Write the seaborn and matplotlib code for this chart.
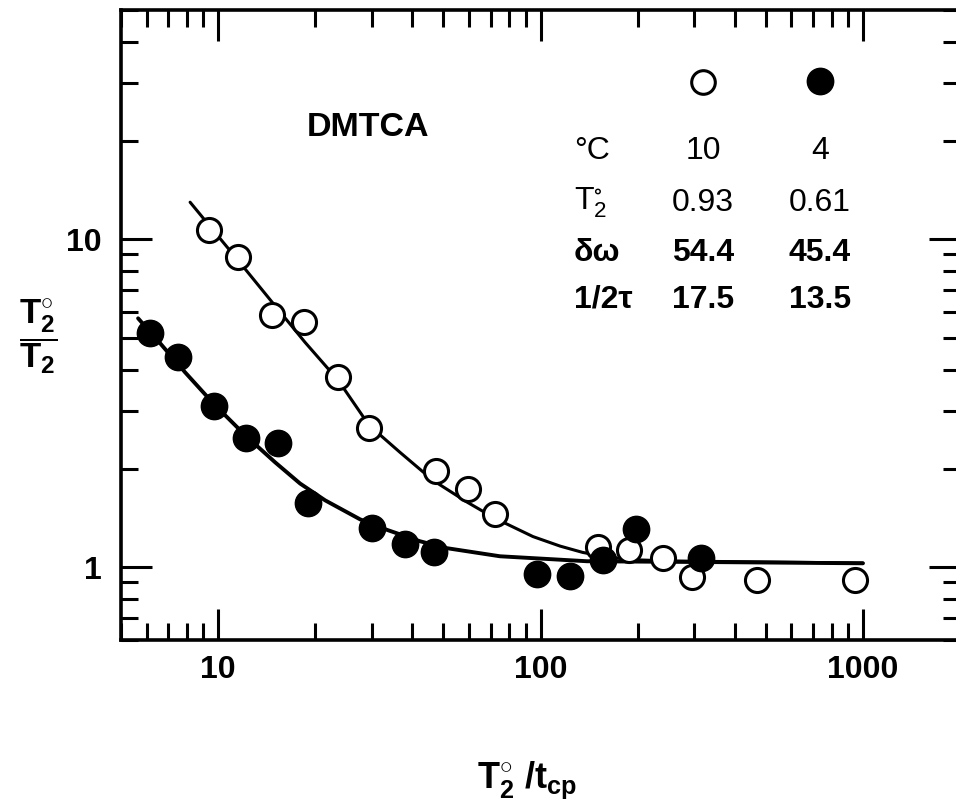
import numpy as np
import matplotlib
matplotlib.use("Agg")
import matplotlib.pyplot as plt
import seaborn as sns
from matplotlib.ticker import LogLocator, NullFormatter

# ---- data ----
# open circles, 10 C
open_x = [9.38, 11.5, 14.7, 18.5, 23.6, 29.4, 47.4, 59.6, 72.2, 151, 188, 240, 295, 469, 944]
open_y = [10.65, 8.81, 5.87, 5.58, 3.80, 2.65, 1.96, 1.73, 1.45, 1.15, 1.13, 1.065, 0.932, 0.913, 0.913]

# filled circles, 4 C
filled_x = [6.15, 7.52, 9.72, 12.2, 15.35, 19.0, 30.0, 38.0, 46.8, 97.5, 123.5, 156, 198, 315]
filled_y = [5.17, 4.37, 3.10, 2.47, 2.39, 1.57, 1.315, 1.18, 1.11, 0.952, 0.939, 1.05, 1.31, 1.065]

# fitted curves
open_fit_x = [8.19, 9.38, 11.53, 14.71, 18.61, 23.56, 29.39, 36.67, 46.42, 59.17,
              72.25, 94.8, 115, 135, 160, 190, 250, 1000]
open_fit_y = [12.97, 11.03, 8.63, 6.43, 4.85, 3.72, 2.71, 2.24, 1.84, 1.58,
              1.41, 1.24, 1.16, 1.11, 1.075, 1.055, 1.045, 1.03]

filled_fit_x = [5.65, 6.61, 7.90, 9.72, 12.22, 15.02, 17.96, 21.47, 27.56, 33.42,
                42.30, 51.30, 74.88, 139.4, 378.7, 1000]
filled_fit_y = [5.74, 4.82, 3.93, 3.14, 2.51, 2.09, 1.80, 1.60, 1.40, 1.30,
                1.20, 1.143, 1.080, 1.043, 1.036, 1.028]

# parameter table
row_labels = ["°C", r"$T_2^{\circ}$", "δω", "1/2τ"]
col_open = ["10", "0.93", "54.4", "17.5"]
col_filled = ["4", "0.61", "45.4", "13.5"]
row_weights = ["normal", "normal", "bold", "bold"]

# ---- style ----
sns.set_theme(style="ticks")
plt.rcParams['font.family'] = ['Liberation Sans', 'DejaVu Sans']
plt.rcParams['text.color'] = 'black'
plt.rcParams['axes.labelcolor'] = 'black'
plt.rcParams['xtick.color'] = 'black'
plt.rcParams['ytick.color'] = 'black'
plt.rcParams['mathtext.fontset'] = 'custom'
plt.rcParams['mathtext.rm'] = 'Liberation Sans'
plt.rcParams['mathtext.it'] = 'Liberation Sans:italic'
plt.rcParams['mathtext.bf'] = 'Liberation Sans:bold'
plt.rcParams['mathtext.default'] = 'regular'

fig = plt.figure(figsize=(9.56, 8.08), dpi=100)
ax = fig.add_axes([121 / 956, 1 - 640 / 808, 839 / 956, 630 / 808])
ax.set(xscale='log', yscale='log')

# curves
sns.lineplot(x=open_fit_x, y=open_fit_y, color='black', linewidth=2.2, sort=False, ax=ax, zorder=2)
sns.lineplot(x=filled_fit_x, y=filled_fit_y, color='black', linewidth=2.8, sort=False, ax=ax, zorder=2)

# points
sns.scatterplot(x=open_x, y=open_y, s=300, color='white', edgecolor='black',
                linewidth=2.2, ax=ax, zorder=3)
sns.scatterplot(x=filled_x, y=filled_y, s=360, color='black', edgecolor='black',
                linewidth=1, ax=ax, zorder=4)

ax.set_xlim(5, 2000)
ax.set_ylim(0.6, 50)

# ticks
ax.set_xticks([10, 100, 1000], labels=['10', '100', '1000'], fontsize=23, fontweight='bold')
ax.set_yticks([1, 10], labels=['1', '10'], fontsize=23, fontweight='bold')
ax.xaxis.set_minor_locator(LogLocator(base=10, subs=np.arange(2, 10), numticks=20))
ax.yaxis.set_minor_locator(LogLocator(base=10, subs=np.arange(2, 10), numticks=20))
ax.xaxis.set_minor_formatter(NullFormatter())
ax.yaxis.set_minor_formatter(NullFormatter())
ax.tick_params(which='both', direction='in', top=True, right=True, width=2.2, colors='black')
ax.tick_params(which='major', length=22)
ax.tick_params(which='minor', length=12)
ax.tick_params(axis='x', which='major', pad=11)
ax.tick_params(axis='y', which='major', pad=14)
for sp in ax.spines.values():
    sp.set_linewidth(2.6)
    sp.set_color('black')
ax.spines['right'].set_visible(False)  # cut off at the image edge in the original

# axis labels
ax.set_xlabel(r'$\mathbf{T_2^{\circ}}$ /$\mathbf{t_{cp}}$', fontsize=26, fontweight='bold')
ax.set_ylabel(r'$\dfrac{\mathbf{T_2^{\circ}}}{\mathbf{T_2}}$', fontsize=25, rotation=0)
ax.xaxis.set_label_coords(0.484, -0.222)
ax.yaxis.set_label_coords(-0.099, 0.481)
ax.xaxis.label.set_va('center')
ax.yaxis.label.set_va('center')
ax.yaxis.label.set_ha('center')

# annotations
ax.text(0.294, 0.813, 'DMTCA', transform=ax.transAxes, fontsize=24.5,
        fontweight='bold', ha='center', va='center')

ax.plot([0.6937], [0.8857], 'o', transform=ax.transAxes, ms=17, mfc='white',
        mec='black', mew=2.2, clip_on=False)
ax.plot([0.8331], [0.8873], 'o', transform=ax.transAxes, ms=19, mfc='black',
        mec='black', clip_on=False)

row_y = [0.776, 0.694, 0.614, 0.540]
for lab, a, b, w, yy in zip(row_labels, col_open, col_filled, row_weights, row_y):
    ax.text(0.540, yy, lab, transform=ax.transAxes, fontsize=23, fontweight=w,
            ha='left', va='center')
    ax.text(0.6937, yy, a, transform=ax.transAxes, fontsize=23, fontweight=w,
            ha='center', va='center')
    ax.text(0.8331, yy, b, transform=ax.transAxes, fontsize=23, fontweight=w,
            ha='center', va='center')

fig.savefig('out.png', dpi=100, facecolor='white')
